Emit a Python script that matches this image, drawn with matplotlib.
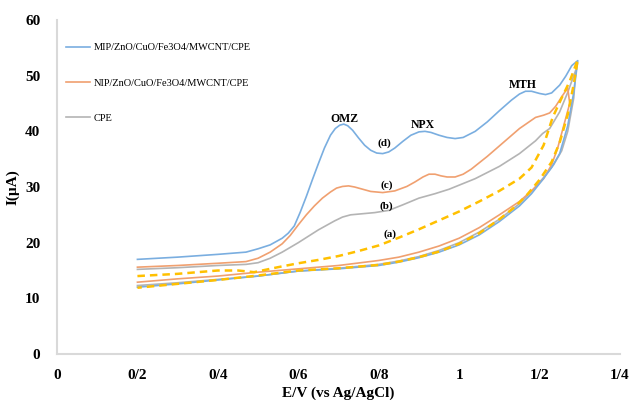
import matplotlib
matplotlib.use("Agg")
import matplotlib.pyplot as plt

# ---- data ----
mip_fwd_x = [0.2, 0.3, 0.4, 0.47, 0.5, 0.53, 0.56, 0.575, 0.59, 0.605, 0.62, 0.635, 0.65, 0.665,
             0.68, 0.692, 0.703, 0.713, 0.723, 0.735, 0.75, 0.765, 0.78, 0.795, 0.81, 0.825, 0.84,
             0.86, 0.88, 0.9, 0.915, 0.93, 0.95, 0.97, 0.99, 1.01, 1.04, 1.07, 1.1, 1.13, 1.15,
             1.165, 1.18, 1.2, 1.215, 1.23, 1.25, 1.265, 1.28, 1.295]
mip_fwd_y = [17.0, 17.4, 17.9, 18.3, 18.9, 19.6, 20.8, 21.7, 23.0, 25.5, 28.3, 31.3, 34.2, 37.0,
             39.3, 40.5, 41.1, 41.3, 41.0, 40.2, 38.8, 37.5, 36.6, 36.1, 36.0, 36.3, 37.0,
             38.2, 39.3, 39.9, 40.0, 39.8, 39.3, 38.9, 38.7, 38.9, 40.0, 41.7, 43.7, 45.6, 46.7,
             47.2, 47.2, 46.8, 46.6, 46.9, 48.3, 49.9, 51.8, 52.7]
mip_rev_x = [1.295, 1.285, 1.27, 1.25, 1.23, 1.2075, 1.18, 1.15, 1.1, 1.05, 1.0, 0.95, 0.9, 0.85,
             0.8, 0.7, 0.6, 0.5, 0.4, 0.3, 0.2]
mip_rev_y = [52.7, 47.0, 41.0, 36.0, 33.5, 31.3, 28.8, 26.6, 23.8, 21.4, 19.6, 18.3, 17.3, 16.5,
             15.9, 15.3, 14.9, 14.0, 13.3, 12.6, 12.0]

nip_fwd_x = [0.2, 0.3, 0.4, 0.47, 0.5, 0.53, 0.56, 0.58, 0.6, 0.62, 0.64, 0.66, 0.68, 0.695,
             0.71, 0.725, 0.74, 0.76, 0.78, 0.81, 0.84, 0.87, 0.89, 0.91, 0.925, 0.94, 0.955,
             0.97, 0.99, 1.01, 1.03, 1.07, 1.11, 1.15, 1.19, 1.21, 1.225, 1.24, 1.255, 1.27]
nip_fwd_y = [15.6, 15.9, 16.3, 16.6, 17.2, 18.3, 19.8, 21.3, 23.2, 25.0, 26.6, 28.0, 29.1, 29.8,
             30.1, 30.2, 30.0, 29.6, 29.2, 29.0, 29.3, 30.1, 30.9, 31.8, 32.3, 32.3, 32.0,
             31.8, 31.8, 32.3, 33.2, 35.5, 38.0, 40.5, 42.5, 42.9, 43.3, 44.5, 46.2, 47.8]
nip_rev_x = [1.27, 1.275, 1.26, 1.245, 1.23, 1.21, 1.18, 1.15, 1.1, 1.05, 1.0, 0.95, 0.9, 0.85,
             0.8, 0.7, 0.6, 0.5, 0.4, 0.3, 0.2]
nip_rev_y = [47.8, 45.0, 41.0, 37.0, 34.0, 31.5, 29.3, 27.4, 25.0, 22.7, 20.8, 19.4, 18.3, 17.4,
             16.8, 15.9, 15.3, 14.7, 14.0, 13.5, 12.9]

cpe_fwd_x = [0.2, 0.3, 0.4, 0.47, 0.5, 0.53, 0.56, 0.6, 0.65, 0.69, 0.71, 0.73, 0.76, 0.79,
             0.825, 0.86, 0.9, 0.94, 0.975, 1.04, 1.1, 1.15, 1.19, 1.2075, 1.225, 1.25, 1.27, 1.29]
cpe_fwd_y = [15.2, 15.5, 15.9, 16.1, 16.4, 17.2, 18.3, 20.0, 22.3, 23.9, 24.6, 25.0, 25.2, 25.4,
             25.8, 26.8, 28.0, 28.8, 29.6, 31.5, 33.7, 36.0, 38.3, 39.6, 40.5, 43.5, 47.0, 51.0]
cpe_rev_x = [1.29, 1.285, 1.27, 1.255, 1.235, 1.21, 1.18, 1.15, 1.1, 1.05, 1.0, 0.95, 0.9, 0.85,
             0.8, 0.7, 0.6, 0.5, 0.4, 0.3, 0.2]
cpe_rev_y = [51.0, 46.0, 40.0, 36.5, 34.0, 31.7, 29.2, 27.0, 24.2, 21.9, 20.0, 18.6, 17.5, 16.7,
             16.1, 15.4, 14.9, 14.0, 13.4, 12.8, 12.3]

blank_fwd_x = [0.2, 0.3, 0.4, 0.45, 0.49, 0.55, 0.6, 0.65, 0.7, 0.75, 0.8, 0.85, 0.9, 0.95, 1.0,
               1.05, 1.1, 1.15, 1.18, 1.21, 1.2325, 1.255, 1.275, 1.295]
blank_fwd_y = [14.0, 14.4, 15.0, 15.0, 14.7, 15.6, 16.3, 16.9, 17.6, 18.5, 19.5, 20.9, 22.4, 24.0,
               25.6, 27.4, 29.3, 31.5, 33.5, 37.5, 42.5, 46.0, 49.0, 52.9]
blank_rev_x = [1.295, 1.285, 1.27, 1.25, 1.23, 1.2, 1.17, 1.14, 1.1, 1.05, 1.0, 0.95, 0.9, 0.85,
               0.8, 0.7, 0.6, 0.5, 0.4, 0.3, 0.2]
blank_rev_y = [52.9, 48.5, 43.0, 38.0, 34.5, 31.3, 28.7, 26.5, 24.2, 21.7, 19.8, 18.4, 17.4, 16.6,
               16.0, 15.4, 15.0, 14.1, 13.3, 12.6, 11.9]

x_ticks = [0, 0.2, 0.4, 0.6, 0.8, 1.0, 1.2, 1.4]
x_ticklabels = ["0", "0/2", "0/4", "0/6", "0/8", "1", "1/2", "1/4"]
y_ticks = [0, 10, 20, 30, 40, 50, 60]

labels = ["MIP/ZnO/CuO/Fe3O4/MWCNT/CPE", "NIP/ZnO/CuO/Fe3O4/MWCNT/CPE", "CPE"]
peak_names = ["OMZ", "NPX", "MTH"]
peak_pos = [(0.715, 42.3), (0.91, 41.2), (1.1575, 48.4)]
curve_tags = ["(d)", "(c)", "(b)", "(a)"]
tag_pos = [(0.815, 37.8), (0.82, 30.3), (0.82, 26.5), (0.8275, 21.5)]

# ---- styling ----
c_blue = "#7aaee0"
c_orange = "#f0a070"
c_gray = "#b4b4b4"
c_yellow = "#ffc000"
serif = ["Liberation Serif", "DejaVu Serif"]

fig = plt.figure(figsize=(6.29, 4.0), dpi=100)
ax = fig.add_axes([57 / 629, 1 - 354 / 400, (620 - 57) / 629, (354 - 20) / 400])

ax.plot(blank_fwd_x + blank_rev_x, blank_fwd_y + blank_rev_y, color=c_yellow, lw=1.8,
        ls=(0, (3, 2)), zorder=3)
ax.plot(cpe_fwd_x + cpe_rev_x, cpe_fwd_y + cpe_rev_y, color=c_gray, lw=1.2, label=labels[2], zorder=2)
ax.plot(nip_fwd_x + nip_rev_x, nip_fwd_y + nip_rev_y, color=c_orange, lw=1.2, label=labels[1], zorder=2)
ax.plot(mip_fwd_x + mip_rev_x, mip_fwd_y + mip_rev_y, color=c_blue, lw=1.2, label=labels[0], zorder=2)

for name, (px, py) in zip(peak_names, peak_pos):
    ax.text(px, py, name, ha="center", va="center", fontsize=8.5, fontweight="bold", family=serif)
for name, (px, py) in zip(curve_tags, tag_pos):
    ax.text(px, py, name, ha="center", va="center", fontsize=8, fontweight="bold", family=serif)

ax.set_xlim(0, 1.4)
ax.set_ylim(0, 60)
ax.set_xticks(x_ticks)
ax.set_xticklabels(x_ticklabels)
ax.set_yticks(y_ticks)
for lab in ax.get_xticklabels() + ax.get_yticklabels():
    lab.set_fontfamily(serif)
    lab.set_fontweight("bold")
    lab.set_fontsize(11)
ax.tick_params(axis="both", length=0)
ax.tick_params(axis="x", pad=11)
ax.tick_params(axis="y", pad=12)

for s in ["top", "right"]:
    ax.spines[s].set_visible(False)
for s in ["left", "bottom"]:
    ax.spines[s].set_color("#d9d9d9")
    ax.spines[s].set_linewidth(1.5)

ax.set_xlabel("E/V (vs Ag/AgCl)", fontsize=11, fontweight="bold", family=serif, labelpad=3)
ax.set_ylabel("I(µA)", fontsize=11, fontweight="bold", family=serif, labelpad=4)

h, l = ax.get_legend_handles_labels()
order = [l.index(x) for x in labels]
leg = fig.legend([h[i] for i in order], [l[i] for i in order], loc="upper left",
                 bbox_to_anchor=(66 / 629, 1 - 43 / 400), frameon=False,
                 prop={"family": serif, "size": 7.5}, handlelength=2.3, handletextpad=0.35,
                 labelspacing=2.5, borderpad=0, borderaxespad=0)

fig.savefig("out.png", dpi=100)
